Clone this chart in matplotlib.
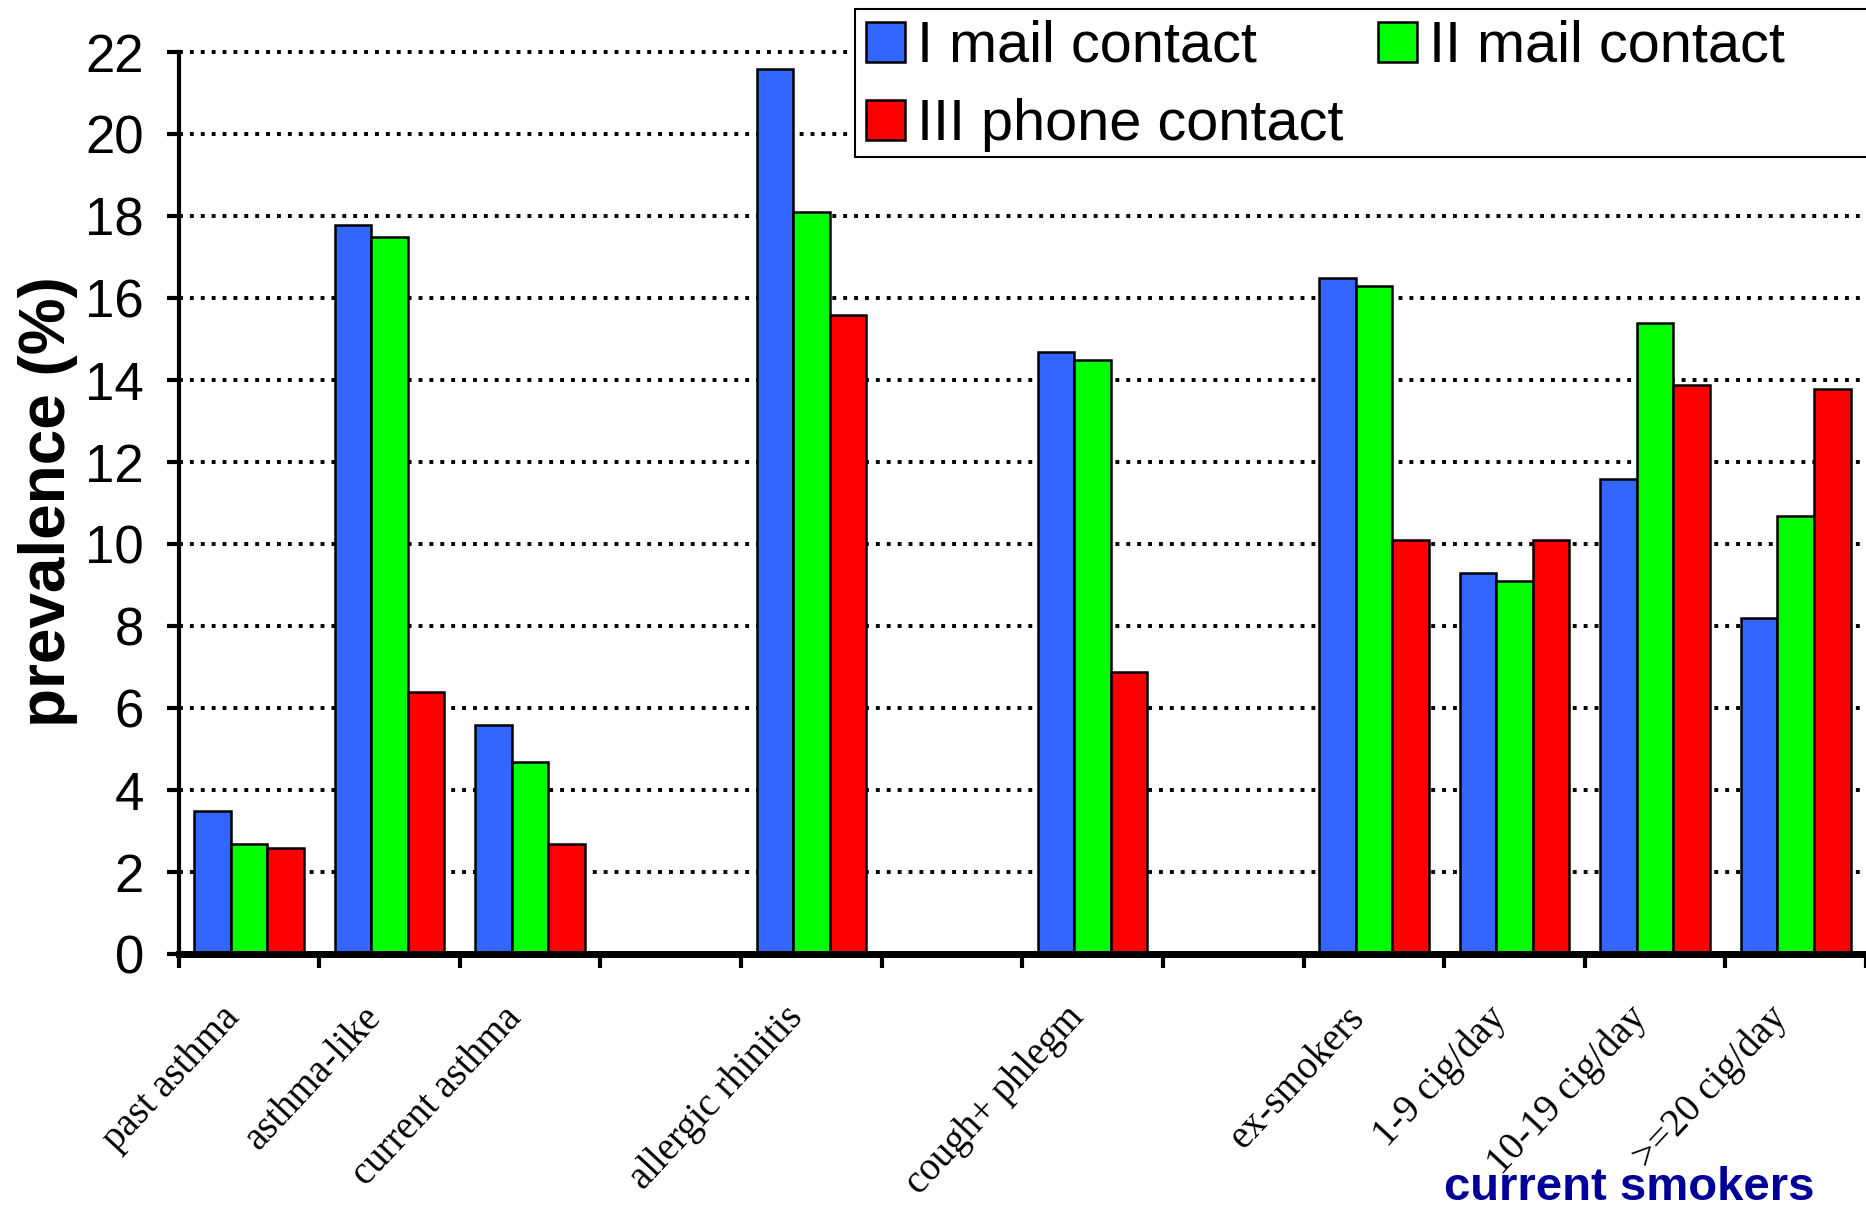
import numpy as np
import matplotlib
matplotlib.use("Agg")
import matplotlib.pyplot as plt
from matplotlib.patches import Rectangle

# categories ('' = empty slot on the axis)
categories = ['past asthma', 'asthma-like', 'current asthma', '',
              'allergic rhinitis', '', 'cough+ phlegm', '',
              'ex-smokers', '1-9 cig/day', '10-19 cig/day', '>=20 cig/day']
mail_1 = [3.5, 17.8, 5.6, np.nan, 21.6, np.nan, 14.7, np.nan, 16.5, 9.3, 11.6, 8.2]
mail_2 = [2.7, 17.5, 4.7, np.nan, 18.1, np.nan, 14.5, np.nan, 16.3, 9.1, 15.4, 10.7]
phone_3 = [2.6, 6.4, 2.7, np.nan, 15.6, np.nan, 6.9, np.nan, 10.1, 10.1, 13.9, 13.8]
series_names = ['I mail contact', 'II mail contact', 'III phone contact']
series_colors = ['#3366ff', '#00ff00', '#ff0000']
yticks = list(range(0, 23, 2))

plt.rcParams['font.family'] = ['Liberation Sans', 'DejaVu Sans']

fig = plt.figure(figsize=(18.66, 12.09), dpi=100)
ax = fig.add_axes([0.0957, 0.2106, 0.9043, 0.746])

x = np.arange(len(categories)) + 0.5
w = 0.26
handles = []
for k, (vals, name, col) in enumerate(zip([mail_1, mail_2, phone_3], series_names, series_colors)):
    b = ax.bar(x + (k - 1) * w, vals, width=w, color=col, edgecolor='black',
               linewidth=1.8, label=name, zorder=3)
    handles.append(b)

ax.set_xlim(0, len(categories))
ax.set_ylim(0, 22)
ax.set_yticks(yticks)
ax.set_yticklabels([str(v) for v in yticks], fontsize=38)
ax.set_xticks(np.arange(len(categories) + 1))
ax.set_xticklabels([])
ax.yaxis.grid(True, color='black', linestyle=(0, (1, 1.8)), linewidth=2.8, zorder=1)
for gl in ax.get_ygridlines():
    gl.set_clip_on(False)

for s in ['top', 'right']:
    ax.spines[s].set_visible(False)
ax.spines['left'].set_linewidth(3)
ax.spines['bottom'].set_linewidth(5)
ax.spines['bottom'].set_zorder(4)
ax.tick_params(axis='y', direction='out', length=9, width=3, pad=16)
ax.tick_params(axis='x', direction='out', length=10, width=3)

for xi, lab in zip(x, categories):
    if lab:
        ax.text(xi - 0.2, -0.05, lab, transform=ax.get_xaxis_transform(),
                rotation=47, rotation_mode='anchor', ha='right', va='top',
                fontsize=28, family='Liberation Serif')

fig.text(0.0256, 0.585, 'prevalence (%)', rotation=90, ha='center', va='center',
         fontsize=46, fontweight='bold')
fig.text(0.873, 0.017, 'current smokers', ha='center', va='center',
         fontsize=34, fontweight='bold', color='#000099')

# legend box runs to the right edge of the picture
fig.patches.append(Rectangle((0.458, 0.870), 0.6, 0.1225, transform=fig.transFigure,
                             facecolor='white', edgecolor='black', linewidth=1.5,
                             zorder=4))
leg = fig.legend([handles[0], handles[2], handles[1]],
                 [series_names[0], series_names[2], series_names[1]],
                 loc='upper left', bbox_to_anchor=(0.458, 0.993), ncol=2,
                 fontsize=41.5, frameon=False,
                 handlelength=0.68, handleheight=0.68,
                 handletextpad=0.2, columnspacing=0.6, labelspacing=0.42,
                 borderpad=0.2, borderaxespad=0)
leg.set_zorder(5)

fig.savefig('out.png', dpi=100)
